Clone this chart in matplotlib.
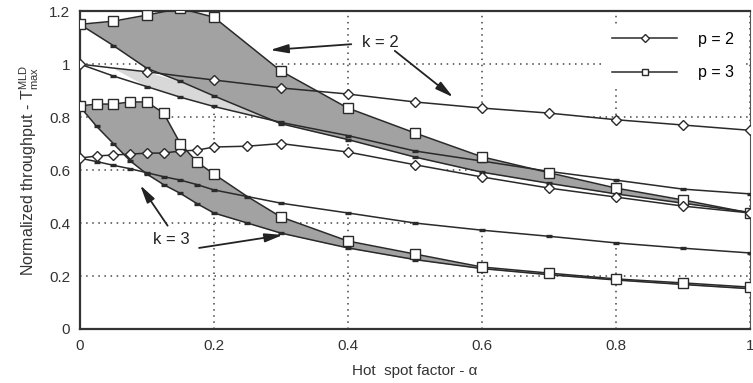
import numpy as np
import matplotlib
matplotlib.use("Agg")
import matplotlib.pyplot as plt
from matplotlib.lines import Line2D

plt.rcParams['font.family'] = ['Liberation Sans', 'DejaVu Sans']
plt.rcParams['mathtext.fontset'] = 'custom'
plt.rcParams['mathtext.rm'] = 'Liberation Sans'
plt.rcParams['mathtext.it'] = 'Liberation Sans:italic'

# ---- k = 2 group (common x grid) ----
x_k2 = [0, 0.05, 0.1, 0.15, 0.2, 0.3, 0.4, 0.5, 0.6, 0.7, 0.8, 0.9, 1.0]
p2_k2_sim = [1.0, 0.985, 0.971, 0.955, 0.94, 0.91, 0.887, 0.857, 0.834, 0.815, 0.79, 0.77, 0.75]
p3_k2_sim = [1.15, 1.162, 1.185, 1.21, 1.177, 0.974, 0.834, 0.74, 0.65, 0.59, 0.532, 0.487, 0.438]
p3_k2_line = [1.15, 1.07, 0.984, 0.935, 0.88, 0.775, 0.715, 0.649, 0.592, 0.55, 0.51, 0.475, 0.44]
p2_k2_line = [1.0, 0.955, 0.915, 0.875, 0.84, 0.78, 0.73, 0.672, 0.634, 0.595, 0.562, 0.528, 0.51]

# ---- k = 3 group (common x grid) ----
x_k3 = [0, 0.025, 0.05, 0.075, 0.1, 0.125, 0.15, 0.175, 0.2, 0.25, 0.3, 0.4, 0.5, 0.6, 0.7, 0.8, 0.9, 1.0]
p2_k3_sim = [0.645, 0.653, 0.657, 0.66, 0.664, 0.664, 0.672, 0.675, 0.687, 0.69, 0.70, 0.668, 0.62, 0.574, 0.532, 0.498, 0.464, 0.438]
p3_k3_sim = [0.842, 0.849, 0.849, 0.857, 0.857, 0.815, 0.70, 0.63, 0.585, 0.50, 0.423, 0.332, 0.283, 0.234, 0.211, 0.189, 0.174, 0.158]
p3_k3_line = [0.84, 0.765, 0.70, 0.635, 0.585, 0.545, 0.512, 0.473, 0.438, 0.40, 0.362, 0.306, 0.262, 0.228, 0.205, 0.185, 0.168, 0.152]
p2_k3_line = [0.645, 0.632, 0.618, 0.605, 0.59, 0.575, 0.562, 0.545, 0.525, 0.50, 0.475, 0.438, 0.40, 0.373, 0.35, 0.325, 0.305, 0.287]

x_ticks = [0, 0.2, 0.4, 0.6, 0.8, 1.0]
x_ticklabels = ['0', '0.2', '0.4', '0.6', '0.8', '1']
y_ticks = [0, 0.2, 0.4, 0.6, 0.8, 1.0, 1.2]
y_ticklabels = ['0', '0.2', '0.4', '0.6', '0.8', '1', '1.2']

legend_labels = ['p = 2', 'p = 3']

LC = '#2a2a2a'
DARK = '#a2a2a2'
LIGHT = '#d8d8d8'

fig = plt.figure(figsize=(7.53, 3.83), dpi=100)
ax = fig.add_axes([0.106, 0.141, 0.890, 0.830])
ax.set_xlim(0, 1)
ax.set_ylim(0, 1.2)
ax.set_axisbelow(True)
ax.grid(True, linestyle=(0, (1, 3)), color='#444444', linewidth=1.1)

X2 = np.array(x_k2)
D2 = np.array(p2_k2_sim); S2 = np.array(p3_k2_sim)
A2 = np.array(p3_k2_line); B2 = np.array(p2_k2_line)
X3 = np.array(x_k3)
D3 = np.array(p2_k3_sim); S3 = np.array(p3_k3_sim)
C3 = np.array(p3_k3_line); E3 = np.array(p2_k3_line)

# white bands (hide grid)
ax.fill_between(X2, D2, B2, color='white', zorder=1, lw=0)
ax.fill_between(X3, D3, E3, color='white', zorder=1, lw=0)
# dark bands
ax.fill_between(X2, S2, A2, where=S2 >= A2, interpolate=True, color=DARK, zorder=2, lw=0)
ax.fill_between(X3, S3, C3, where=S3 >= C3, interpolate=True, color=DARK, zorder=2, lw=0)
# light band
ax.fill_between(X2, np.minimum(A2, D2), B2, where=(X2 >= 0.1) & (X2 <= 0.3), interpolate=True,
                color=LIGHT, zorder=3, lw=0)

lw = 1.1
dash_kw = dict(marker='_', ms=4.5, mew=2.4, mec=LC)
ax.plot(X2, A2, color=LC, lw=lw, zorder=4, markevery=slice(1, None), **dash_kw)
ax.plot(X2, B2, color=LC, lw=lw, zorder=4, markevery=slice(1, None), **dash_kw)
ax.plot(X3, C3, color=LC, lw=lw, zorder=4, markevery=slice(1, None), **dash_kw)
ax.plot(X3, E3, color=LC, lw=lw, zorder=4, markevery=slice(1, None), **dash_kw)

dia_kw = dict(marker='D', ms=5, mfc='white', mec=LC, mew=1.0)
sq_kw = dict(marker='s', ms=6.5, mfc='white', mec=LC, mew=1.0)
ax.plot(X2, D2, color=LC, lw=lw, zorder=5, markevery=[i for i, v in enumerate(x_k2) if v not in (0.05, 0.15)], **dia_kw)
ax.plot(X2, S2, color=LC, lw=lw, zorder=5, **sq_kw)
ax.plot(X3, D3, color=LC, lw=lw, zorder=5, **dia_kw)
ax.plot(X3, S3, color=LC, lw=lw, zorder=5, markevery=[i for i, v in enumerate(x_k3) if v != 0.25], **sq_kw)

ax.set_xticks(x_ticks)
ax.set_xticklabels(x_ticklabels)
ax.set_yticks(y_ticks)
ax.set_yticklabels(y_ticklabels)
ax.tick_params(length=0, labelsize=11, pad=7, colors='#333333')

for s in ['left', 'bottom', 'top']:
    ax.spines[s].set_linewidth(1.6)
    ax.spines[s].set_color('#333333')
ax.spines['right'].set_linewidth(0.8)
ax.spines['right'].set_color('#555555')

ax.set_xlabel('Hot  spot factor - \u03b1', fontsize=11, color='#333333', labelpad=8)
ax.set_ylabel('Normalized throughput - T$_{\\mathrm{max}}^{\\mathrm{MLD}}$', fontsize=11.5,
              color='#333333', labelpad=6)

handles = [Line2D([], [], color=LC, lw=lw, marker='D', ms=4.5, mfc='white', mec=LC, mew=1.0),
           Line2D([], [], color=LC, lw=lw, marker='s', ms=5, mfc='white', mec=LC, mew=1.0)]
leg = ax.legend(handles, legend_labels, loc='upper right', bbox_to_anchor=(1.0, 0.985),
                fontsize=11.5, frameon=True, framealpha=1, facecolor='white', edgecolor='none',
                fancybox=False, handlelength=4.1, handletextpad=1.3, labelspacing=1.15,
                borderpad=0.5)
leg.set_zorder(10)

akw = dict(arrowstyle='-|>,head_length=0.9,head_width=0.22', color='#222222', lw=1.3,
           mutation_scale=12, shrinkA=0, shrinkB=0)
ax.text(0.448, 1.083, 'k = 2', fontsize=12, ha='center', va='center', color='#222222', zorder=11)
ax.annotate('', xy=(0.284, 1.053), xytext=(0.405, 1.075), arrowprops=akw, zorder=11)
ax.annotate('', xy=(0.557, 0.875), xytext=(0.47, 1.05), arrowprops=akw, zorder=11)
ax.text(0.137, 0.336, 'k = 3', fontsize=12, ha='center', va='center', color='#222222', zorder=11)
ax.annotate('', xy=(0.09, 0.543), xytext=(0.131, 0.39), arrowprops=akw, zorder=11)
ax.annotate('', xy=(0.303, 0.355), xytext=(0.178, 0.306), arrowprops=akw, zorder=11)

fig.savefig('out.png', dpi=100)
